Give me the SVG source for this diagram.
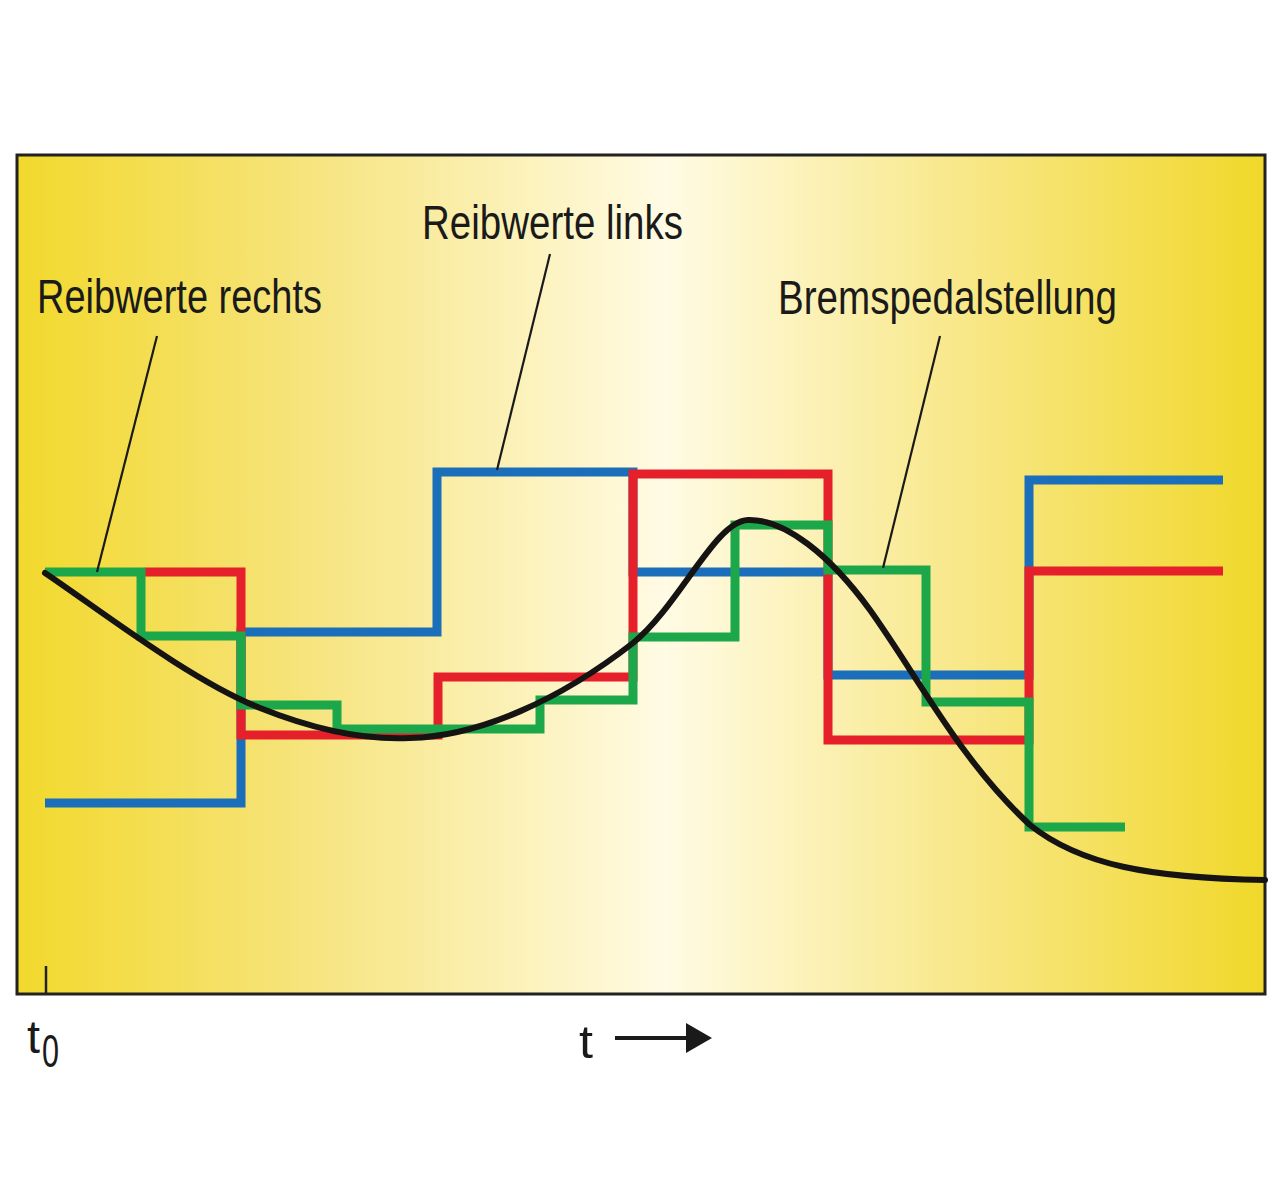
<svg xmlns="http://www.w3.org/2000/svg" width="1280" height="1190" viewBox="0 0 1280 1190">
  <defs>
    <linearGradient id="bg" x1="0" y1="0" x2="1" y2="0">
      <stop offset="0" stop-color="#f2d92c"/>
      <stop offset="0.22" stop-color="#f6e379"/>
      <stop offset="0.52" stop-color="#fffbe4"/>
      <stop offset="0.78" stop-color="#f7e680"/>
      <stop offset="1" stop-color="#f1d82a"/>
    </linearGradient>
    <style>
      .step { fill: none; stroke-width: 9; stroke-linejoin: miter; stroke-linecap: butt; }
      .blue { stroke: #1b6fba; }
      .red { stroke: #e6202a; }
      .green { stroke: #1ca74b; }
      .curve { fill: none; stroke: #161412; stroke-width: 6; stroke-linecap: round; }
      .leader { fill: none; stroke: #1a1a1a; stroke-width: 2.2; }
      .lbl { font-family: "Liberation Sans", Arial, sans-serif; font-size: 48px; fill: #1a1a1a; }
      .axis { font-family: "Liberation Sans", Arial, sans-serif; font-size: 46px; fill: #1a1a1a; }
    </style>
  </defs>
  <rect width="1280" height="1190" fill="#ffffff"/>
  <g id="frame">
    <rect x="17" y="155" width="1248" height="839" fill="url(#bg)" stroke="#222" stroke-width="3"/>
    <line x1="46" y1="966" x2="46" y2="994" stroke="#222" stroke-width="2.5"/>
  </g>
  <g id="series-blue">
    <polyline class="step blue" points="45,803 241,803 241,632 437,632 437,472 633,472 633,572 828,572 828,675 1025,675 1029,675 1029,480 1223,480"/>
  </g>
  <g id="series-red">
    <polyline class="step red" points="145,572 241,572 241,735 438,735 438,677 633,677 633,474 828,474 828,740 1029,740 1029,571 1223,571"/>
  </g>
  <g id="series-green">
    <polyline class="step green" points="45,572 141,572 141,636 241,636 241,705 337,705 337,729 540,729 540,700 633,700 633,637 735,637 735,525 828,525 828,570 926,570 926,702 1029,702 1029,827 1125,827"/>
  </g>
  <g id="curve-bremspedal">
    <path class="curve" d="M45,573 C100,610 190,680 260,708 C320,732 370,740 410,738 C480,736 560,700 633,643 C680,605 715,521 748,520 C785,519 830,555 870,610 C920,680 960,760 1030,825 C1080,865 1150,878 1265,880"/>
  </g>
  <g id="connectors">
    <line class="leader" x1="157" y1="336" x2="97" y2="572"/>
    <line class="leader" x1="550" y1="254" x2="497" y2="470"/>
    <line class="leader" x1="940" y1="336" x2="883" y2="568"/>
  </g>
  <g id="label-rechts">
    <text class="lbl" x="37" y="313" textLength="285" lengthAdjust="spacingAndGlyphs">Reibwerte rechts</text>
  </g>
  <g id="label-links">
    <text class="lbl" x="422" y="239" textLength="261" lengthAdjust="spacingAndGlyphs">Reibwerte links</text>
  </g>
  <g id="label-bremspedal">
    <text class="lbl" x="778" y="314" textLength="339" lengthAdjust="spacingAndGlyphs">Bremspedalstellung</text>
  </g>
  <g id="axis-labels">
    <text class="axis" x="27" y="1053" textLength="13" lengthAdjust="spacingAndGlyphs">t</text>
    <text class="axis" x="42" y="1067" font-size="34" textLength="17" lengthAdjust="spacingAndGlyphs">0</text>
    <text class="axis" x="579" y="1058" textLength="14" lengthAdjust="spacingAndGlyphs">t</text>
    <line x1="615" y1="1038" x2="690" y2="1038" stroke="#1a1a1a" stroke-width="4"/>
    <polygon points="686,1023 712,1038 686,1053" fill="#1a1a1a"/>
  </g>
</svg>
